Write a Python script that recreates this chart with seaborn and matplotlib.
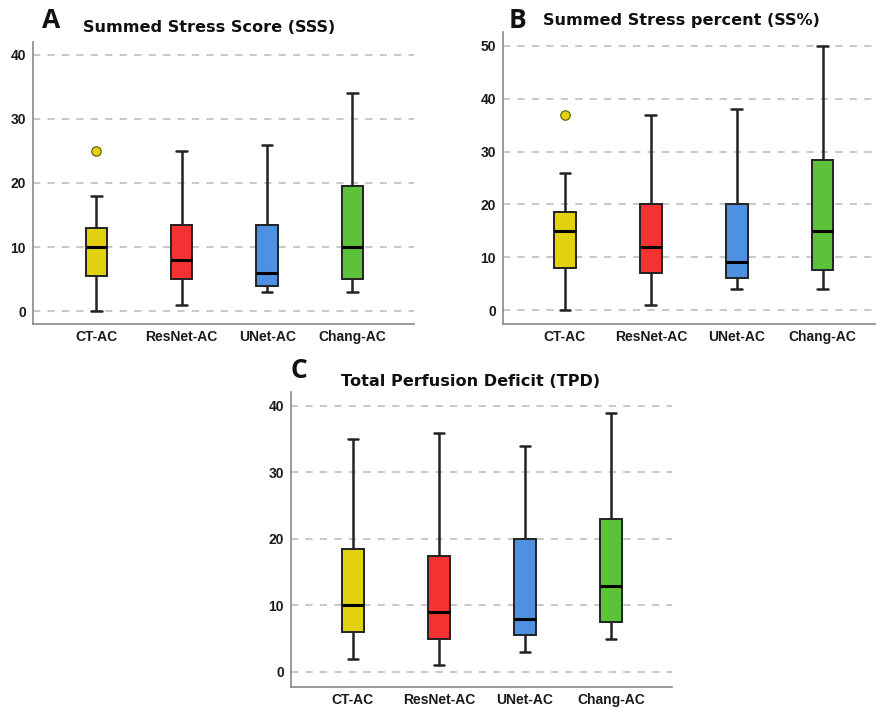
import numpy as np
import pandas as pd
import matplotlib
matplotlib.use("Agg")
import matplotlib.pyplot as plt
import seaborn as sns

# Groups and colours
groups = ["CT-AC", "ResNet-AC", "UNet-AC", "Chang-AC"]
box_colors = ["#E2D10F", "#F53232", "#4E90E2", "#5CC23A"]

# Summed Stress Score (SSS): whisker low, Q1, median, Q3, whisker high
sss_low = [0, 1, 3, 3]
sss_q1 = [5.5, 5, 4, 5]
sss_med = [10, 8, 6, 10]
sss_q3 = [13, 13.5, 13.5, 19.5]
sss_high = [18, 25, 26, 34]
sss_outliers = [[25], [], [], []]

# Summed Stress percent (SS%)
ssp_low = [0, 1, 4, 4]
ssp_q1 = [8, 7, 6, 7.5]
ssp_med = [15, 12, 9, 15]
ssp_q3 = [18.5, 20, 20, 28.5]
ssp_high = [26, 37, 38, 50]
ssp_outliers = [[37], [], [], []]

# Total Perfusion Deficit (TPD)
tpd_low = [2, 1, 3, 5]
tpd_q1 = [6, 5, 5.5, 7.5]
tpd_med = [10, 9, 8, 13]
tpd_q3 = [18.5, 17.5, 20, 23]
tpd_high = [35, 36, 34, 39]
tpd_outliers = [[], [], [], []]

sns.set_style("white")
plt.rcParams["font.family"] = ["Liberation Sans", "DejaVu Sans"]


def build_frame(low, q1, med, q3, high, outliers):
    """Expand five-number summaries into long-form values whose quartiles match."""
    rows = []
    for i, g in enumerate(groups):
        summary = [low[i], q1[i], med[i], q3[i], high[i]]
        for v in summary:
            for _ in range(4):
                rows.append({"group": g, "value": v})
        for v in outliers[i]:
            rows.append({"group": g, "value": v})
    return pd.DataFrame(rows)


def draw_panel(ax, df, ylim, yticks, xlim, whis):
    sns.boxplot(data=df, x="group", y="value", hue="group", order=groups,
                hue_order=groups, palette=box_colors, width=0.25, whis=whis,
                linecolor="#222222", linewidth=1.4, saturation=1, legend=False,
                medianprops=dict(color="black", linewidth=2.2),
                whiskerprops=dict(color="#222222", linewidth=1.8),
                capprops=dict(color="#222222", linewidth=1.8),
                flierprops=dict(marker="o", markerfacecolor="#E2D10F",
                                markeredgecolor="#5a5a00", markersize=6.8,
                                markeredgewidth=0.8),
                ax=ax, zorder=3)
    ax.set_ylim(*ylim)
    ax.set_xlim(*xlim)
    ax.set_yticks(yticks)
    for t in yticks:
        ax.axhline(t, color="#c4c4c4", linestyle=(0, (4, 4)), linewidth=1.3, zorder=0)
    ax.set_xlabel("")
    ax.set_ylabel("")
    for side in ["top", "right"]:
        ax.spines[side].set_visible(False)
    for side in ["left", "bottom"]:
        ax.spines[side].set_color("#8a8a8a")
        ax.spines[side].set_linewidth(1.2)
    ax.tick_params(axis="y", length=0, pad=5, labelsize=10, labelcolor="#1a1a1a")
    ax.tick_params(axis="x", length=0, pad=4.5, labelsize=10, labelcolor="#1a1a1a")
    for lab in ax.get_xticklabels() + ax.get_yticklabels():
        lab.set_fontweight("bold")


W, H = 876, 708
fig = plt.figure(figsize=(W / 100, H / 100), dpi=100)


def px_axes(left, top, right, bottom):
    return fig.add_axes([left / W, 1 - bottom / H, (right - left) / W, (bottom - top) / H])


ax_a = px_axes(33, 42, 414, 324)
ax_b = px_axes(503, 32, 876, 324)
ax_c = px_axes(291, 392, 672, 687)

draw_panel(ax_a, build_frame(sss_low, sss_q1, sss_med, sss_q3, sss_high, sss_outliers),
           (-2.0, 42.0), [0, 10, 20, 30, 40], (-0.74, 3.72), 1.5)
draw_panel(ax_b, build_frame(ssp_low, ssp_q1, ssp_med, ssp_q3, ssp_high, ssp_outliers),
           (-2.65, 52.65), [0, 10, 20, 30, 40, 50], (-0.72, 3.62), 1.5)
draw_panel(ax_c, build_frame(tpd_low, tpd_q1, tpd_med, tpd_q3, tpd_high, tpd_outliers),
           (-2.26, 42.1), [0, 10, 20, 30, 40], (-0.72, 3.71), 2.5)

# Panel letters and titles
title_font = dict(fontsize=11.6, fontweight="bold", color="#111111", va="center", ha="left",
                  family=["DejaVu Sans"])
letter_font = dict(fontsize=19, fontweight="bold", color="#111111", va="center", ha="left",
                   family=["Open Sans", "DejaVu Sans"])
fig.text(42 / W, 1 - 20 / H, "A", **letter_font)
fig.text(83 / W, 1 - 27 / H, "Summed Stress Score (SSS)", **title_font)
fig.text(509 / W, 1 - 20 / H, "B", **letter_font)
fig.text(543 / W, 1 - 21 / H, "Summed Stress percent (SS%)", **title_font)
fig.text(291 / W, 1 - 371 / H, "C", **letter_font)
fig.text(341 / W, 1 - 382 / H, "Total Perfusion Deficit (TPD)", **title_font)

fig.savefig("out.png", dpi=100)
